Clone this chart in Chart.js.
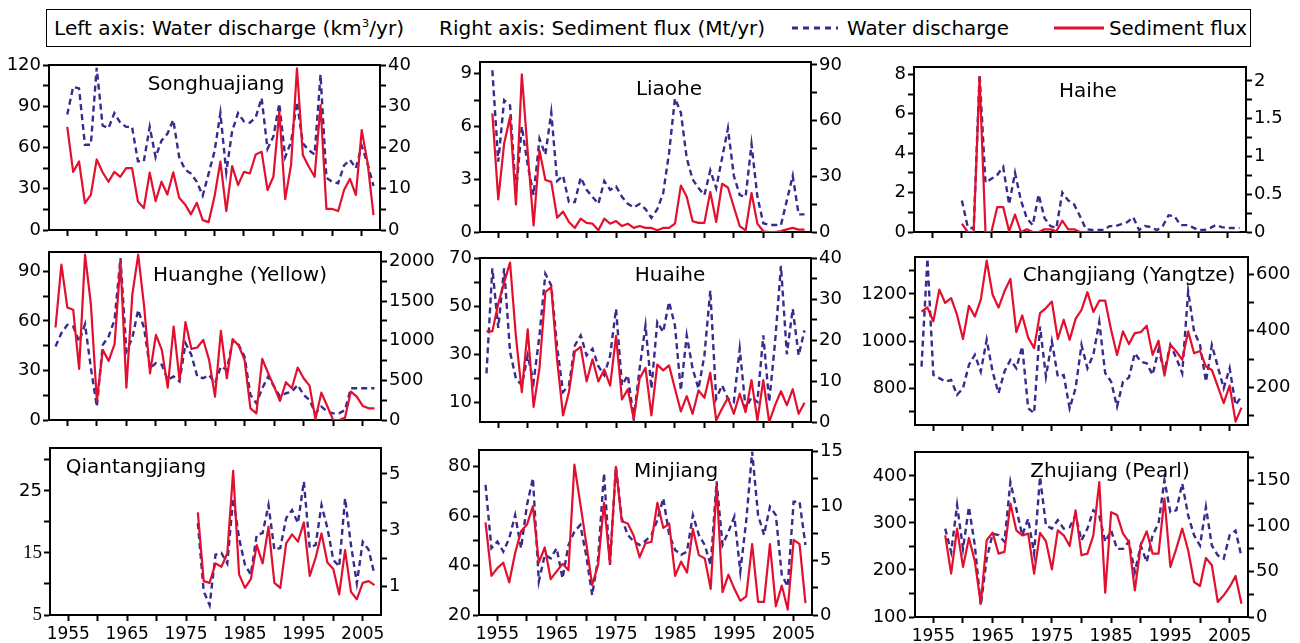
<!DOCTYPE html>
<html>
<head>
<meta charset="utf-8">
<script src="https://cdn.jsdelivr.net/npm/chart.js@4.4.0/dist/chart.umd.min.js"></script>
<style>
  html, body { margin: 0; padding: 0; background: #fff; }
  #page { position: relative; width: 1300px; height: 643px; overflow: hidden; font-family: 'DejaVu Sans', sans-serif; color: #000; }
  #page canvas { position: absolute; }
  .legend-box { position: absolute; left: 46px; top: 9px; width: 1203px; height: 36px; border: 1.5px solid #000; }
  .lg { position: absolute; font-size: 19px; white-space: nowrap; line-height: 1; transform-origin: 0 50%; }
  .lg sup { font-size: 11px; vertical-align: 8px; line-height: 0; }
  .title { position: absolute; font-size: 20px; white-space: nowrap; line-height: 1; transform: translate(-50%, -50%); }
</style>
</head>
<body>
<div id="page">
  <div class="legend-box"></div>
  <div class="lg" data-w="350" style="left:54px;top:28px">Left axis: Water discharge (km<sup>3</sup>/yr)</div>
  <div class="lg" data-w="326" style="left:439px;top:28px">Right axis: Sediment flux (Mt/yr)</div>
  <svg style="position:absolute;left:790px;top:22px" width="50" height="12">
    <line x1="2" y1="6" x2="48" y2="6" stroke="#3b2a8e" stroke-width="3" stroke-dasharray="6,5"/>
  </svg>
  <div class="lg" data-w="162" style="left:847px;top:28px">Water discharge</div>
  <svg style="position:absolute;left:1052px;top:22px" width="54" height="12">
    <line x1="2" y1="6" x2="52" y2="6" stroke="#e2102e" stroke-width="3"/>
  </svg>
  <div class="lg" data-w="138" style="left:1109px;top:28px">Sediment flux</div>
</div>
<script>
// years covered by the records
const years = [1953, 1954, 1955, 1956, 1957, 1958, 1959, 1960, 1961, 1962,
  1963, 1964, 1965, 1966, 1967, 1968, 1969, 1970, 1971, 1972,
  1973, 1974, 1975, 1976, 1977, 1978, 1979, 1980, 1981, 1982,
  1983, 1984, 1985, 1986, 1987, 1988, 1989, 1990, 1991, 1992,
  1993, 1994, 1995, 1996, 1997, 1998, 1999, 2000, 2001, 2002,
  2003, 2004, 2005, 2006, 2007];
const xMajorTicks = [1955, 1965, 1975, 1985, 1995, 2005];
const xMinorTicks = [1960, 1970, 1980, 1990, 2000];

// Songhuajiang, 1955-2007
const songhuaStart = 1955;
const songhuaWater = [84, 104, 103, 62, 62, 118, 76, 74, 85, 78, 75, 75, 50, 50, 75, 53, 65, 70, 80, 53,
  44, 41, 35, 25, 41, 57, 85, 42, 72, 85, 79, 78, 82, 96, 59, 68, 92, 53, 64, 93,
  63, 58, 55, 113, 38, 35, 34, 47, 51, 45, 61, 48, 32];
const songhuaSediment = [25.0, 14.1, 16.6, 6.5, 8.5, 17.1, 14.0, 11.7, 14.1, 12.9, 15.0, 15.0, 6.9, 5.3, 13.9, 7.0, 11.7, 8.6, 14.0, 7.8,
  6.2, 3.8, 6.6, 2.4, 1.9, 8.1, 16.6, 4.6, 15.5, 10.9, 14.1, 13.7, 18.3, 19.0, 9.7, 12.9, 28.7, 7.5, 15.8, 39.2,
  18.2, 15.4, 12.9, 30.3, 5.1, 5.1, 4.6, 9.7, 12.4, 8.5, 24.2, 16.2, 3.6];

// Liaohe, 1954-2007
const liaoStart = 1954;
const liaoWater = [9.2, 4.0, 7.5, 7.2, 2.2, 6.0, 3.8, 2.1, 5.3, 4.4, 6.8, 2.9, 3.2, 1.7, 1.7, 3.1, 2.4, 2.0, 1.6, 2.9,
  2.4, 2.6, 2.0, 1.6, 1.4, 1.6, 1.3, 0.8, 1.3, 2.2, 4.5, 7.6, 6.8, 4.2, 3.0, 2.5, 2.1, 3.5, 2.5, 4.2,
  5.9, 3.2, 2.1, 2.0, 5.0, 2.0, 0.5, 0.4, 0.4, 0.4, 1.8, 3.2, 1.0, 1.0];
const liaoSediment = [63.9, 17.6, 47.7, 62, 14.8, 85, 43, 3.6, 44, 28, 27, 7.7, 11, 5.4, 2.2, 7.2, 4.9, 4.5, 0.9, 7.2,
  4.5, 5.9, 3.2, 4.5, 2.2, 3.2, 2.2, 2.2, 0.9, 2.2, 2.2, 4.5, 25, 19, 5.8, 4.9, 4.9, 21.6, 5.4, 26,
  24, 13.5, 3.2, 0.9, 21, 4.5, 0.4, 0, 0, 0.5, 1.4, 2.2, 1.3, 1.3];

// Haihe, 1960-2007
const haiStart = 1960;
const haiWater = [1.6, 0.25, 0.17, 8.0, 2.5, 2.7, 2.9, 3.3, 1.4, 3.0, 1.6, 0.7, 0.35, 1.9, 0.7, 0.3, 0.2, 2.0, 1.6, 1.4,
  0.8, 0.15, 0.1, 0.1, 0.1, 0.3, 0.3, 0.4, 0.5, 0.75, 0.1, 0.3, 0.25, 0.1, 0.3, 0.85, 0.8, 0.35, 0.35, 0.25,
  0.1, 0.1, 0.2, 0.35, 0.25, 0.2, 0.2, 0.2];
const haiSediment = [0.11, 0, 0, 2.05, 0, 0, 0.33, 0.33, 0.01, 0.23, 0, 0.035, 0, 0, 0.035, 0.035, 0.01, 0.15, 0.035, 0.035,
  0, 0, 0, 0, 0, 0, 0, 0, 0, 0, 0, 0, 0, 0, 0, 0, 0, 0, 0, 0,
  0, 0, 0, 0, 0, 0, 0, 0];

// Huanghe (Yellow), 1953-2007
const huangStart = 1953;
const huangWater = [44.5, 52.6, 57.6, 56.6, 47.5, 58, 31.3, 8.1, 45.5, 50.6, 60.7, 98, 41.5, 49.6, 66.7, 55.6, 31.3, 34.4, 33.4, 24.3,
  26.3, 23.3, 46.5, 39.4, 26.3, 25.3, 27.3, 22.2, 32.4, 30.3, 47.9, 45.5, 38.4, 15.2, 10.1, 19.2, 26.3, 20.2, 14.2, 16.2,
  17.2, 21.2, 15.2, 12.1, 4, 8.1, 5.1, 4, 4, 6, 19.2, 19.2, 19.2, 19.2, 19.2];
const huangSediment = [1166, 1958, 1419, 1389, 644, 2084, 1453, 240, 884, 745, 956, 2000, 408, 1579, 2084, 1432, 589, 1074, 884, 408,
  1179, 505, 1234, 897, 914, 1011, 758, 295, 1124, 526, 1019, 939, 758, 147, 84, 770, 589, 421, 240, 476,
  400, 661, 526, 434, 13, 345, 177, 0, 0, 29, 358, 295, 177, 147, 147];

// Huaihe, 1953-2007
const huaiStart = 1953;
const huaiWater = [22, 66, 41, 66, 31, 19.8, 17, 29.5, 18.4, 37.9, 63.7, 58.8, 33, 14.2, 17, 33.7, 37.9, 29.5, 32.3, 25,
  21.2, 29.5, 49, 17, 21.2, 3, 24, 42, 15.6, 43.5, 39.3, 51.9, 42, 14.9, 37.9, 24, 15.6, 29.5, 56.7, 11.4,
  17, 11.4, 10, 32.3, 7.2, 12, 10, 37.9, 10, 35, 67, 30, 49, 29.5, 40];
const huaiSediment = [22.1, 22.1, 28.9, 34, 38.9, 20.8, 7.3, 22.6, 3.7, 13.2, 31.7, 32.9, 15, 1.6, 7.3, 17.2, 18.3, 9.9, 15.3, 9.9,
  12.8, 8.9, 21, 5.5, 8, 0.8, 10.6, 13.2, 1.6, 14, 12.6, 13.8, 8.1, 2.6, 6.3, 2, 7.7, 5.9, 12, 0.4,
  3.3, 5.9, 2, 6.9, 2.4, 10.2, 0.4, 10.2, 0, 4.1, 7.5, 4.1, 8, 2, 4.7];

// Changjiang (Yangtze), 1953-2007
const changStart = 1953;
const changWater = [892, 1350, 857, 843, 828, 835, 772, 800, 899, 942, 871, 1006, 870, 779, 871, 920, 885, 977, 715, 694,
  1062, 850, 999, 850, 856, 715, 800, 984, 885, 942, 1081, 864, 828, 722, 828, 845, 949, 913, 906, 857,
  963, 871, 984, 928, 864, 1211, 1041, 984, 828, 984, 892, 800, 885, 729, 765];
const changSediment = [468, 482, 433, 545, 498, 515, 456, 371, 488, 450, 509, 647, 527, 482, 539, 583, 395, 454, 376, 339,
  462, 480, 503, 371, 439, 368, 442, 474, 536, 466, 506, 506, 403, 315, 398, 353, 392, 395, 418, 315,
  365, 242, 351, 327, 298, 398, 321, 329, 274, 262, 204, 145, 207, 80, 129];

// Qiantangjiang, 1977-2007
const qianStart = 1977;
const qianWater = [19.8, 8.8, 6.6, 14.7, 15, 13.3, 23.8, 17.4, 13.1, 11.5, 17.9, 18.2, 22.7, 15.5, 15.8, 20.6, 21.9, 19.8, 26.5, 15.8,
  16.3, 22.7, 19, 13.9, 12.8, 23.8, 16.3, 10.1, 16.8, 15.5, 11.5];
const qianSediment = [3.64, 1.20, 1.14, 1.83, 1.71, 2.18, 5.11, 1.44, 0.96, 1.27, 2.48, 1.83, 3.13, 1.14, 0.96, 2.54, 2.86, 2.60, 3.28, 1.39,
  2.03, 2.89, 1.86, 1.63, 0.73, 2.30, 0.82, 0.56, 1.14, 1.20, 1.06];

// Minjiang, 1953-2007
const minStart = 1953;
const minWater = [72.6, 47, 49.7, 45.6, 51, 60.4, 47, 64.5, 75.3, 33.6, 44.3, 42.9, 47, 34.8, 48.3, 53.7, 56.4, 44, 28, 42.9,
  77.3, 40.2, 80, 59, 52.4, 49.7, 48.3, 50, 52.4, 58.4, 67.2, 52.4, 46.3, 44.3, 45.6, 60.4, 52.4, 48.3, 40.2, 74,
  48.3, 53.7, 59.8, 37.5, 58, 86, 60.4, 52.4, 63.8, 60.4, 36.2, 31.5, 65.8, 65.8, 48.3];
const minSediment = [8.5, 3.6, 4.3, 4.8, 3.0, 5.7, 7.7, 8.3, 10.0, 4.8, 6.2, 3.3, 4.0, 4.7, 4.1, 13.8, 10.2, 6.6, 2.75, 4.6,
  10.3, 4.7, 13.6, 8.6, 8.4, 7.3, 5.3, 6.6, 6.7, 10.3, 8.0, 8.4, 3.6, 4.9, 3.9, 7.9, 5.5, 5.2, 2.4, 11.9,
  2.1, 3.7, 2.4, 1.3, 1.7, 6.5, 1.2, 1.2, 6.5, 0.8, 2.7, 0.5, 6.9, 6.5, 1.1];

// Zhujiang (Pearl), 1957-2007
const zhuStart = 1957;
const zhuWater = [288, 238, 338, 245, 334, 252, 125, 224, 277, 274, 260, 387, 330, 274, 309, 235, 398, 295, 288, 306,
  288, 291, 316, 263, 288, 327, 316, 260, 284, 245, 245, 260, 196, 252, 217, 274, 299, 391, 323, 327,
  384, 316, 274, 252, 334, 252, 231, 224, 274, 284, 228];
const zhuSediment = [89.6, 47.6, 97, 54.9, 86.7, 61.1, 14.6, 84.2, 92.6, 69.5, 71.4, 124.4, 95.1, 89.6, 91.5, 47.6, 92.2, 83.1, 52.3, 95.1,
  89.6, 77.9, 117, 67.7, 69.5, 89.6, 148, 26.7, 115, 112, 91.5, 82.3, 29.3, 78.7, 94, 69.5, 69.5, 130, 54.9, 75,
  97, 73.2, 38.4, 34, 64.8, 56.7, 16.5, 23.8, 33, 45, 14.6];

// axis tick values (labelled / unlabelled)
const songhuaLeftTicks = [0, 30, 60, 90, 120], songhuaLeftMinor = [15, 45, 75, 105];
const songhuaRightTicks = [0, 10, 20, 30, 40], songhuaRightMinor = [5, 15, 25, 35];
const liaoLeftTicks = [0, 3, 6, 9], liaoLeftMinor = [1.5, 4.5, 7.5];
const liaoRightTicks = [0, 30, 60, 90], liaoRightMinor = [15, 45, 75];
const haiLeftTicks = [0, 2, 4, 6, 8], haiLeftMinor = [1, 3, 5, 7];
const haiRightTicks = [0, 0.5, 1, 1.5, 2], haiRightMinor = [0.25, 0.75, 1.25, 1.75];
const huangLeftTicks = [0, 30, 60, 90], huangLeftMinor = [15, 45, 75];
const huangRightTicks = [0, 500, 1000, 1500, 2000], huangRightMinor = [250, 750, 1250, 1750];
const huaiLeftTicks = [10, 30, 50, 70], huaiLeftMinor = [20, 40, 60];
const huaiRightTicks = [0, 10, 20, 30, 40], huaiRightMinor = [5, 15, 25, 35];
const changLeftTicks = [800, 1000, 1200], changLeftMinor = [700, 900, 1100, 1300];
const changRightTicks = [200, 400, 600], changRightMinor = [100, 300, 500];
const qianLeftTicks = [5, 15, 25], qianLeftMinor = [10, 20, 30];
const qianRightTicks = [1, 3, 5], qianRightMinor = [2, 4];
const minLeftTicks = [20, 40, 60, 80], minLeftMinor = [30, 50, 70];
const minRightTicks = [0, 5, 10, 15], minRightMinor = [2.5, 7.5, 12.5];
const zhuLeftTicks = [100, 200, 300, 400], zhuLeftMinor = [150, 250, 350];
const zhuRightTicks = [0, 50, 100, 150], zhuRightMinor = [25, 75, 125, 175];

const SED_COLOR = '#e2102e';
const WATER_COLOR = '#3b2a8e';
const SANS = "'DejaVu Sans', sans-serif";
const SERIF = "'Liberation Serif', 'DejaVu Serif', serif";
const LW = 60, RW = 62, TOP_PAD = 14, XH = 36;

Chart.defaults.font.family = SANS;
Chart.defaults.color = '#000';

function series(start, vals) {
  const i0 = years.indexOf(start);
  return vals.map((v, i) => ({ x: years[i0 + i], y: v }));
}

// closes the frame along the top of the plot area
const topFrame = {
  id: 'topFrame',
  afterDraw(chart) {
    const a = chart.chartArea, c = chart.ctx;
    c.save();
    c.strokeStyle = '#000';
    c.lineWidth = 2;
    c.beginPath();
    c.moveTo(a.left - 1, a.top);
    c.lineTo(a.right + 1, a.top);
    c.stroke();
    c.restore();
  }
};

function yAxis(pos, min, max, major, minor, width, serifVals) {
  const all = major.concat(minor).sort((a, b) => a - b);
  return {
    type: 'linear', position: pos, min: min, max: max,
    afterBuildTicks: s => { s.ticks = all.map(v => ({ value: v })); },
    afterFit: s => { s.width = width; s.paddingTop = 0; s.paddingBottom = 0; },
    grid: { drawOnChartArea: false, drawTicks: true, tickLength: 6, tickWidth: 2, tickColor: '#000' },
    border: { display: true, color: '#000', width: 2 },
    ticks: {
      autoSkip: false, padding: 2, color: '#000',
      font: ctx => (serifVals && ctx.tick && serifVals.includes(ctx.tick.value))
        ? { size: 19, family: SERIF } : { size: 18, family: SANS },
      callback: v => major.includes(v) ? String(v) : ''
    }
  };
}

function xAxis(showLabels) {
  const all = xMajorTicks.concat(xMinorTicks).sort((a, b) => a - b);
  return {
    type: 'linear', min: 1951.9, max: 2008.1,
    afterBuildTicks: s => { s.ticks = all.map(v => ({ value: v })); },
    afterFit: s => { s.height = XH; s.paddingLeft = 0; s.paddingRight = 0; },
    grid: { drawOnChartArea: false, drawTicks: true, tickLength: 6, tickWidth: 2, tickColor: '#000' },
    border: { display: true, color: '#000', width: 2 },
    ticks: {
      autoSkip: false, maxRotation: 0, minRotation: 0, padding: 3, color: '#000', font: { size: 17 },
      callback: v => (showLabels && xMajorTicks.includes(v)) ? String(v) : ''
    }
  };
}

const panels = [
  { title: 'Songhuajiang', tx: 216, ty: 83, box: [49, 380, 65, 230], start: songhuaStart, water: songhuaWater, sed: songhuaSediment,
    left: [0, 120, songhuaLeftTicks, songhuaLeftMinor], right: [0, 40, songhuaRightTicks, songhuaRightMinor], xl: false },
  { title: 'Liaohe', tx: 669, ty: 88, box: [480, 811, 62, 232], start: liaoStart, water: liaoWater, sed: liaoSediment,
    left: [0, 9.67, liaoLeftTicks, liaoLeftMinor], right: [0, 91.6, liaoRightTicks, liaoRightMinor], xl: false },
  { title: 'Haihe', tx: 1088, ty: 90, box: [914, 1246, 67, 232], start: haiStart, water: haiWater, sed: haiSediment,
    left: [0, 8.37, haiLeftTicks, haiLeftMinor], right: [0, 2.185, haiRightTicks, haiRightMinor], xl: false },
  { title: 'Huanghe (Yellow)', tx: 240, ty: 274, box: [49, 381, 252, 420], start: huangStart, water: huangWater, sed: huangSediment,
    left: [0, 101.7, huangLeftTicks, huangLeftMinor], right: [0, 2118, huangRightTicks, huangRightMinor], xl: false },
  { title: 'Huaihe', tx: 670, ty: 274, box: [480, 811, 258, 422], start: huaiStart, water: huaiWater, sed: huaiSediment,
    left: [1.63, 70.3, huaiLeftTicks, huaiLeftMinor], right: [0, 40, huaiRightTicks, huaiRightMinor], xl: false },
  { title: 'Changjiang (Yangtze)', tx: 1129, ty: 274, box: [915, 1248, 257, 425], start: changStart, water: changWater, sed: changSediment,
    left: [644, 1357, changLeftTicks, changLeftMinor], right: [68, 660, changRightTicks, changRightMinor], xl: false },
  { title: 'Qiantangjiang', tx: 136, ty: 466, box: [50, 381, 448, 615], start: qianStart, water: qianWater, sed: qianSediment,
    left: [5, 31.9, qianLeftTicks, qianLeftMinor], right: [0, 5.92, qianRightTicks, qianRightMinor], xl: true, serif: [5, 15] },
  { title: 'Minjiang', tx: 676, ty: 470, box: [479, 812, 450, 615], start: minStart, water: minWater, sed: minSediment,
    left: [20, 86.7, minLeftTicks, minLeftMinor], right: [0, 15.15, minRightTicks, minRightMinor], xl: true },
  { title: 'Zhujiang (Pearl)', tx: 1110, ty: 470, box: [915, 1248, 452, 617], start: zhuStart, water: zhuWater, sed: zhuSediment,
    left: [100, 451, zhuLeftTicks, zhuLeftMinor], right: [0, 181, zhuRightTicks, zhuRightMinor], xl: true }
];

const page = document.getElementById('page');

panels.forEach(p => {
  const [l, r, t, b] = p.box;
  const canvas = document.createElement('canvas');
  canvas.width = LW + (r - l) + RW;
  canvas.height = TOP_PAD + (b - t) + XH;
  canvas.style.left = (l - LW) + 'px';
  canvas.style.top = (t - TOP_PAD) + 'px';
  page.appendChild(canvas);

  new Chart(canvas.getContext('2d'), {
    type: 'line',
    data: {
      datasets: [
        { data: series(p.start, p.sed), yAxisID: 'y1', borderColor: SED_COLOR, borderWidth: 2.2,
          pointRadius: 0, fill: false, tension: 0, borderJoinStyle: 'round' },
        { data: series(p.start, p.water), yAxisID: 'y', borderColor: WATER_COLOR, borderWidth: 2.4,
          borderDash: [6, 4], pointRadius: 0, fill: false, tension: 0 }
      ]
    },
    options: {
      responsive: false,
      devicePixelRatio: 1,
      animation: false,
      events: [],
      layout: { padding: { top: TOP_PAD, left: 0, right: 0, bottom: 0 } },
      plugins: { legend: { display: false }, tooltip: { enabled: false } },
      scales: {
        x: xAxis(p.xl),
        y: yAxis('left', p.left[0], p.left[1], p.left[2], p.left[3], LW, p.serif),
        y1: yAxis('right', p.right[0], p.right[1], p.right[2], p.right[3], RW, null)
      }
    },
    plugins: [topFrame]
  });

  const tt = document.createElement('div');
  tt.className = 'title';
  tt.textContent = p.title;
  tt.style.left = p.tx + 'px';
  tt.style.top = p.ty + 'px';
  page.appendChild(tt);
});

// stretch legend texts to the widths they take in the figure
document.querySelectorAll('.lg[data-w]').forEach(el => {
  const w = el.getBoundingClientRect().width;
  const target = +el.dataset.w;
  el.style.transform = 'translateY(-50%) scaleX(' + (target / w).toFixed(3) + ')';
});
</script>
</body>
</html>
